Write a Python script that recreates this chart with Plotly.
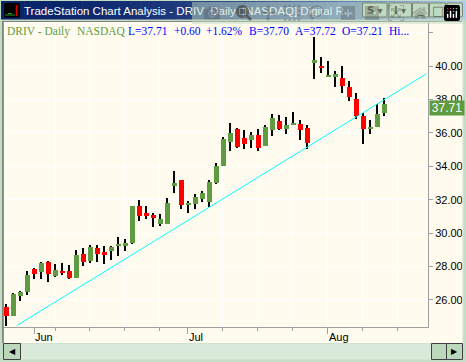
import plotly.graph_objects as go
import pandas as pd

# ---------------- data ----------------
HOLIDAYS = ["2005-05-30", "2005-07-04"]
calendar = [d.strftime("%Y-%m-%d") for d in pd.bdate_range("2005-05-25", "2005-08-19")
            if d.strftime("%Y-%m-%d") not in HOLIDAYS]

opens = [25.60, 25.04, 26.24, 26.50, 27.86, 27.69, 28.29, 27.44, 27.76, 27.76,
         27.32, 28.75, 28.35, 29.09, 28.89, 28.95, 29.23, 29.25, 29.39, 31.62,
         31.21, 31.09, 30.57, 30.57, 32.84, 33.18, 31.70, 31.76, 32.06, 31.88,
         33.02, 34.04, 35.47, 36.23, 35.69, 35.59, 35.87, 35.21, 36.19, 36.71,
         36.25, 36.47, 36.53, 36.29, 40.20, 40.02, 39.36, 39.36, 39.28, 38.74,
         38.03, 37.01, 36.25, 36.37, 37.21]
highs = [25.74, 26.44, 26.56, 27.76, 27.93, 28.29, 28.35, 28.15, 28.23, 28.09,
         28.99, 29.09, 29.29, 29.29, 29.23, 29.23, 29.79, 29.63, 31.64, 31.98,
         31.62, 31.19, 31.15, 32.08, 33.72, 33.20, 31.92, 32.34, 32.54, 33.18,
         34.22, 35.77, 36.59, 36.29, 36.17, 36.05, 36.23, 36.47, 37.13, 37.07,
         36.95, 37.25, 36.77, 36.47, 41.74, 40.56, 40.32, 39.72, 40.02, 39.12,
         38.41, 37.21, 36.77, 37.71, 38.07]
lows = [24.44, 25.02, 25.96, 26.30, 27.24, 27.28, 27.10, 27.40, 27.50, 27.28,
        27.30, 28.05, 28.23, 28.29, 28.15, 28.39, 28.63, 28.95, 29.35, 30.75,
        30.85, 30.39, 30.45, 30.55, 32.42, 31.46, 31.22, 31.46, 31.88, 31.58,
        32.94, 34.02, 34.93, 35.09, 35.05, 35.09, 34.93, 35.19, 35.83, 36.19,
        35.95, 36.45, 35.59, 35.03, 39.20, 39.56, 39.32, 38.72, 38.41, 37.93,
        36.81, 35.31, 35.93, 36.35, 37.01]
closes = [25.04, 26.36, 26.50, 27.50, 27.56, 28.23, 27.56, 27.80, 27.64, 27.32,
          28.69, 28.29, 29.17, 28.75, 28.69, 29.17, 29.35, 29.41, 31.62, 31.05,
          31.05, 30.93, 30.85, 31.80, 33.00, 31.70, 31.76, 32.16, 32.40, 33.06,
          34.02, 35.63, 35.99, 35.15, 35.35, 35.87, 35.11, 36.35, 36.89, 36.25,
          36.47, 36.53, 36.19, 35.41, 40.36, 39.92, 39.48, 39.54, 38.82, 38.13,
          37.01, 36.25, 36.35, 37.11, 37.71]
bid, ask = 37.70, 37.72

# trendline anchor points (bar index, price)
trend_x = [1.53, 60.0]
trend_y = [24.46, 39.52]

price_ticks = [26, 28, 30, 32, 34, 36, 38, 40, 42]
month_names = {6: "Jun", 7: "Jul", 8: "Aug"}

# ---------------- derived ----------------
n = len(closes)
idx = list(range(n))
cal = pd.to_datetime(calendar)
month_ticks = [i for i in range(1, len(cal)) if cal[i].month != cal[i - 1].month]
month_text = [month_names[cal[i].month] for i in month_ticks]
week_ticks = [i for i in range(len(cal)) if cal[i].weekday() == 0]

up = [i for i in idx if closes[i] >= opens[i]]
dn = [i for i in idx if closes[i] < opens[i]]

GREEN = "#5F9B40"
RED = "#FF0000"
CREAM = "#FFFBEF"
FRAME = "#C4DCC4"
GRAY = "#A0A0A0"

W, H = 466, 362
def px(x): return x / W
def py(y): return 1 - y / H

fig = go.Figure()
# wicks
fig.add_trace(go.Bar(x=idx, base=lows, y=[h - l for h, l in zip(highs, lows)],
                     width=0.15, marker=dict(color="black", line=dict(width=0)),
                     hoverinfo="skip", showlegend=False))
# up bodies
fig.add_trace(go.Bar(x=up, base=[opens[i] for i in up],
                     y=[max(closes[i] - opens[i], 0.04) for i in up],
                     width=0.72, marker=dict(color=GREEN, line=dict(width=0)),
                     hoverinfo="skip", showlegend=False))
# down bodies
fig.add_trace(go.Bar(x=dn, base=[closes[i] for i in dn],
                     y=[opens[i] - closes[i] for i in dn],
                     width=0.72, marker=dict(color=RED, line=dict(width=0)),
                     hoverinfo="skip", showlegend=False))
# trendline
fig.add_trace(go.Scatter(x=trend_x, y=trend_y, mode="lines",
                         line=dict(color="#00FFFF", width=1),
                         hoverinfo="skip", showlegend=False))

X0, X1, Y0, Y1 = 3.5, 428, 22, 327
fig.update_layout(
    width=W, height=H, margin=dict(l=0, r=0, t=0, b=0),
    paper_bgcolor=FRAME, plot_bgcolor=CREAM, barmode="overlay", bargap=0,
    showlegend=False,
    xaxis=dict(domain=[px(X0), px(X1)], range=[-0.357, 60.29],
               tickmode="array", tickvals=month_ticks, ticktext=month_text,
               ticks="outside", ticklen=6, tickcolor=GRAY, tickwidth=1,
               ticklabelposition="outside right",
               showline=True, linecolor=GRAY, linewidth=1, showgrid=False,
               zeroline=False, fixedrange=True,
               tickfont=dict(family="Liberation Sans", size=11, color="black"),
               minor=dict(tickmode="array", tickvals=week_ticks, ticks="outside",
                          ticklen=3, tickcolor=GRAY, showgrid=True,
                          gridcolor="white", gridwidth=1)),
    yaxis=dict(domain=[py(Y1), py(Y0)], range=[24.38, 42.633], side="right",
               tickmode="array", tickvals=price_ticks,
               ticktext=["%.2f" % v if v < 42 else "" for v in price_ticks],
               ticks="outside", ticklen=4, tickcolor=GRAY,
               showline=True, linecolor=GRAY, linewidth=1,
               showgrid=True, gridcolor="white", gridwidth=1, zeroline=False,
               tickfont=dict(family="Liberation Sans", size=11, color="black")),
)

shapes = []
def rect(x0, y0, x1, y1, fill, line=None, lw=0, layer="below"):
    shapes.append(dict(type="rect", xref="paper", yref="paper",
                       x0=px(x0), x1=px(x1), y0=py(y1), y1=py(y0),
                       fillcolor=fill, line=dict(color=line or fill, width=lw),
                       layer=layer))
def hline(x0, x1, y, color, w=1, layer="above"):
    shapes.append(dict(type="line", xref="paper", yref="paper",
                       x0=px(x0), x1=px(x1), y0=py(y), y1=py(y),
                       line=dict(color=color, width=w), layer=layer))
def vline(x, y0, y1, color, w=1, layer="above"):
    shapes.append(dict(type="line", xref="paper", yref="paper",
                       x0=px(x), x1=px(x), y0=py(y0), y1=py(y1),
                       line=dict(color=color, width=w), layer=layer))

# chart area background
rect(3, 21.5, 462.5, 343, CREAM)
vline(3, 21, 343, "#505050", 1.2)
hline(3, 463, 21.5, "#808080", 1)
vline(462.8, 21, 343, "#E8F0E8", 1)

# title bar gradient
c0, c1 = (10, 36, 106), (166, 202, 240)
N = 40
for k in range(N):
    t = (k / (N - 1)) ** 2
    col = "rgb(%d,%d,%d)" % tuple(int(a + (b - a) * t) for a, b in zip(c0, c1))
    xa = 1 + (464 * k) / N
    xb = 1 + (464 * (k + 1)) / N + 0.5
    rect(xa, 1, xb, 19.5, col)
# icon
rect(4, 3, 20, 17.5, "black")
vline(16.5, 5, 16, "#E00000", 1.5)
hline(5, 15, 15, "#20A020", 1)
hline(8, 12, 13.5, "#20A020", 1)

# buttons
BTN = "#BCD8BC"
for (a, b) in [(362.5, 387), (389, 411.5), (412.5, 428.5), (429.5, 445.5), (447, 462.5)]:
    rect(a, 3, b, 17, BTN, "#303030", 1)

# scroll bar
rect(20.5, 343.5, 431.5, 359.5, "#DAEADA")
rect(3.5, 343.5, 20.5, 359.5, "#BCD8BC", "#404040", 1)
rect(431.5, 343.5, 446.5, 359.5, "#BCD8BC", "#404040", 1)
rect(446.5, 343.5, 462.5, 359.5, "#BCD8BC", "#404040", 1)

fig.update_layout(shapes=shapes)

ann = []
def text(x, y, s, color="black", size=11, family="Liberation Sans", xanchor="left", **kw):
    ann.append(dict(xref="paper", yref="paper", x=px(x), y=py(y), text=s,
                    showarrow=False, xanchor=xanchor, yanchor="middle",
                    font=dict(family=family, size=size, color=color), **kw))

title = "TradeStation Chart Analysis - DRIV  Daily  [NASDAQ] Digital R..."
text(21.5, 10.5, title.replace("  ", "&nbsp; "), "white", 11.5)

text(374.7, 10.5, "<b>S</b> ▾", "black", 10, "DejaVu Sans", "center")
text(400.2, 10.5, "<b>I</b> ▾", "black", 10, "DejaVu Sans", "center")
text(420.5, 9.5, "<b>_</b>", "black", 11, "DejaVu Sans", "center")
text(437.5, 10.5, "□", "black", 13, "DejaVu Sans", "center")
text(454.7, 10.5, "<b>X</b>", "black", 12, "Liberation Sans", "center")
text(12, 351.5, "◀", "black", 8, "DejaVu Sans", "center")
text(454.5, 351.5, "▶", "black", 8, "DejaVu Sans", "center")

# info line
last, prev = closes[-1], closes[-2]
chg = last - prev
pct = chg / prev * 100
BLUE = "#0000FF"
INFO_GREEN = "#5F9B40"
F = "Liberation Serif"
FS = 11.5
text(4.5, 31, "DRIV - Daily", INFO_GREEN, FS, F)
text(75, 31, "NASDAQ", INFO_GREEN, FS, F)
text(126, 31, "L=%.2f" % last, BLUE, FS, F)
text(172, 31, "%+.2f" % chg, BLUE, FS, F)
text(204, 31, "%+.2f%%" % pct, BLUE, FS, F)
text(247, 31, "B=%.2f" % bid, BLUE, FS, F)
text(293, 31, "A=%.2f" % ask, BLUE, FS, F)
text(340, 31, "O=%.2f" % opens[-1], BLUE, FS, F)
text(387, 31, "Hi...", BLUE, FS, F)

# last price marker
ann.append(dict(xref="paper", yref="y", x=px(428.5), y=last, yshift=-3.5,
                text="%.2f" % last, showarrow=False, xanchor="left", yanchor="middle",
                width=34, height=14, borderpad=0, bgcolor=GREEN,
                font=dict(family="Liberation Sans", size=12, color="white")))

fig.update_layout(annotations=ann)
fig.write_html("out.html",
               post_script="document.body.style.margin='0';"
                           "document.body.style.overflow='hidden';")
